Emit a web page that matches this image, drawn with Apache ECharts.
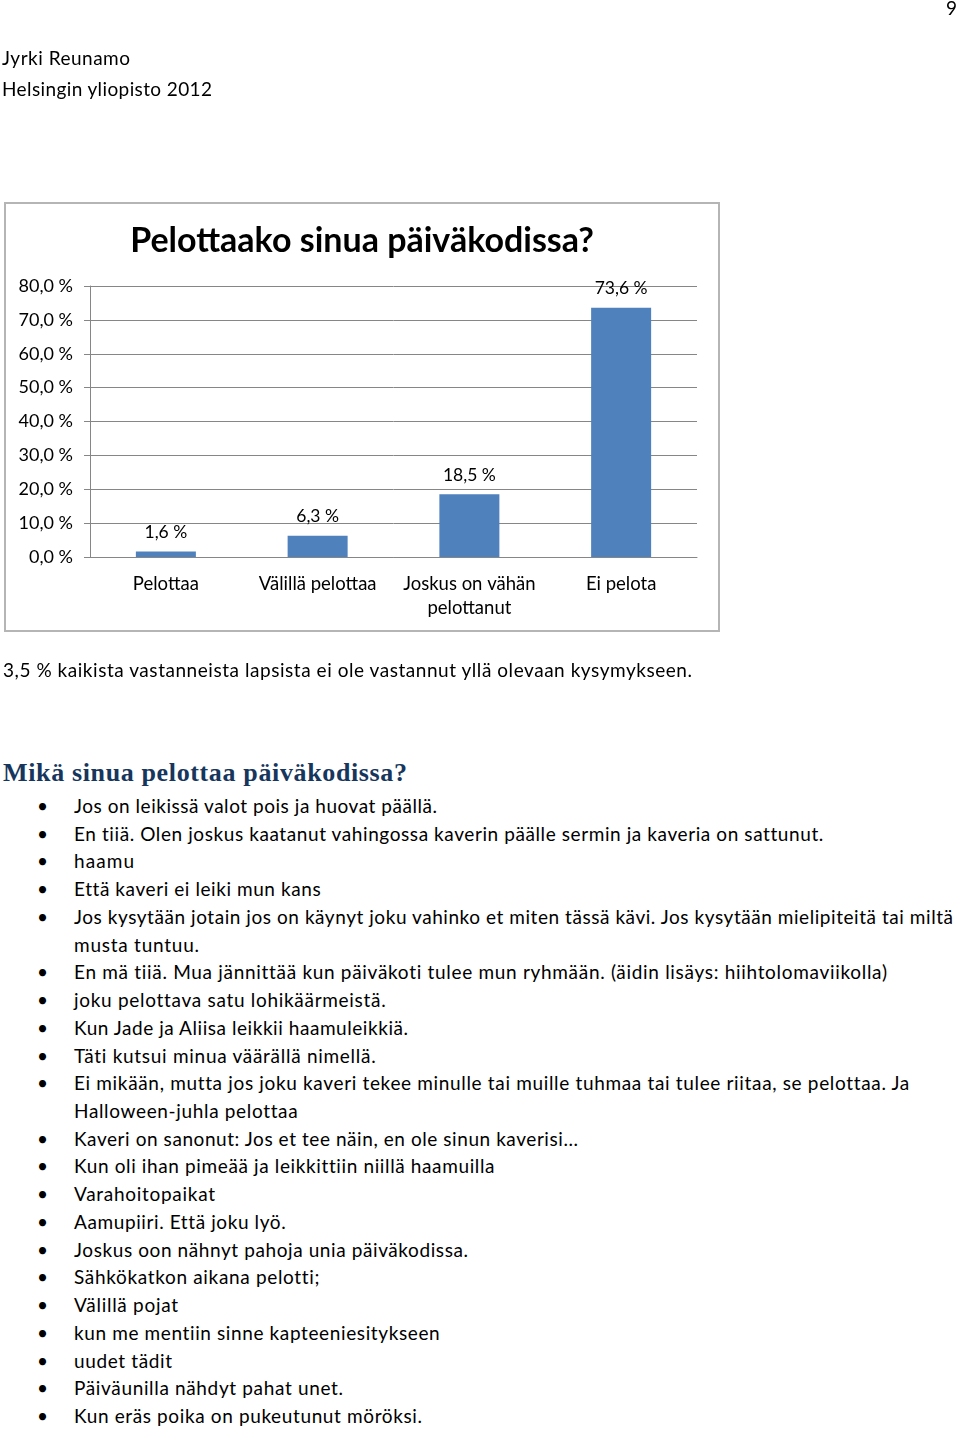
<!DOCTYPE html>
<html><head><meta charset="utf-8">
<script src="https://cdn.jsdelivr.net/npm/echarts@6/dist/echarts.min.js"></script>
<style>
html,body{margin:0;padding:0;background:#fff;}
body{width:960px;height:1429px;position:relative;overflow:hidden;font-family:Lato,'Noto Sans',sans-serif;color:#000;}
.t{position:absolute;white-space:nowrap;font-size:19px;line-height:28px;height:28px;}
.bul{position:absolute;left:37px;font-size:19px;line-height:28px;height:28px;}
.h2{position:absolute;left:3px;white-space:nowrap;font-family:'Liberation Serif','DejaVu Serif',serif;font-weight:bold;font-size:26px;line-height:34px;color:#17365d;}
#box{position:absolute;left:4px;top:202px;width:716px;height:430px;box-sizing:border-box;border:2px solid #b5b5b5;}
#chart{position:absolute;left:0;top:0;width:960px;height:700px;}
</style></head>
<body>
<div id="box"></div>
<div id="chart"></div>
<div id="doc"></div>
<script>
// ---- chart data ----
const categories = ['Pelottaa', 'Välillä pelottaa', 'Joskus on vähän\npelottanut', 'Ei pelota'];
const values = [1.6, 6.3, 18.5, 73.6];
const yMin = 0, yMax = 80, yStep = 10;
const chartTitle = 'Pelottaako sinua päiväkodissa?';

// ---- document text ----
const pageNumber = '9';
const headerLines = ['Jyrki Reunamo', 'Helsingin yliopisto 2012'];
const noteLine = '3,5 % kaikista vastanneista lapsista ei ole vastannut yllä olevaan kysymykseen.';
const heading = 'Mikä sinua pelottaa päiväkodissa?';
const answers = [
  ['Jos on leikissä valot pois ja huovat päällä.'],
  ['En tiiä. Olen joskus kaatanut vahingossa kaverin päälle sermin ja kaveria on sattunut.'],
  ['haamu'],
  ['Että kaveri ei leiki mun kans'],
  ['Jos kysytään jotain jos on käynyt joku vahinko et miten tässä kävi. Jos kysytään mielipiteitä tai miltä', 'musta tuntuu.'],
  ['En mä tiiä. Mua jännittää kun päiväkoti tulee mun ryhmään. (äidin lisäys: hiihtolomaviikolla)'],
  ['joku pelottava satu lohikäärmeistä.'],
  ['Kun Jade ja Aliisa leikkii haamuleikkiä.'],
  ['Täti kutsui minua väärällä nimellä.'],
  ['Ei mikään, mutta jos joku kaveri tekee minulle tai muille tuhmaa tai tulee riitaa, se pelottaa. Ja', 'Halloween-juhla pelottaa'],
  ['Kaveri on sanonut: Jos et tee näin, en ole sinun kaverisi...'],
  ['Kun oli ihan pimeää ja leikkittiin niillä haamuilla'],
  ['Varahoitopaikat'],
  ['Aamupiiri. Että joku lyö.'],
  ['Joskus oon nähnyt pahoja unia päiväkodissa.'],
  ['Sähkökatkon aikana pelotti;'],
  ['Välillä pojat'],
  ['kun me mentiin sinne kapteeniesitykseen'],
  ['uudet tädit'],
  ['Päiväunilla nähdyt pahat unet.'],
  ['Kun eräs poika on pukeutunut möröksi.']
];

// ---- layout (text fitting targets, right edges in px) ----
const answerRightEdges = [437, 823, 134, 320, 953, 199, 887, 385, 408, 376, 908, 297, 578, 494, 215, 285, 468, 319, 178, 440, 172, 343, 422];

const doc = document.getElementById('doc');
const fitList = [];
function addLine(text, left, centerY, right, cls) {
  const d = document.createElement('div');
  d.className = cls || 't';
  d.textContent = text;
  d.style.left = left + 'px';
  d.style.top = (centerY - 14) + 'px';
  doc.appendChild(d);
  if (right) fitList.push([d, right - left, text.length]);
  return d;
}
addLine(pageNumber, 946, 8, null);
addLine(headerLines[0], 2, 58, 130);
addLine(headerLines[1], 2, 89, 212);
addLine(noteLine, 3, 670, 692);
const h = document.createElement('div');
h.className = 'h2'; h.textContent = heading; h.style.top = (773 - 17) + 'px';
doc.appendChild(h); fitList.push([h, 404, heading.length]);

let k = 0;
answers.forEach(item => {
  item.forEach((ln, j) => {
    const y = 806 + k * 27.73;
    if (j === 0) {
      const b = document.createElement('div');
      b.className = 'bul'; b.textContent = '•'; b.style.top = (y - 14) + 'px';
      doc.appendChild(b);
    }
    addLine(ln, 74, y, answerRightEdges[k]);
    k++;
  });
});

function fit() {
  fitList.forEach(([el, target, n]) => {
    el.style.letterSpacing = '0px';
    const w = el.getBoundingClientRect().width;
    el.style.letterSpacing = ((target - w) / Math.max(1, n - 1)) + 'px';
  });
}

const fmt = v => v.toFixed(1).replace('.', ',') + ' %';
const gray = '#868686';
const chart = echarts.init(document.getElementById('chart'), null, {renderer: 'canvas'});
chart.setOption({
  animation: false,
  textStyle: {fontFamily: 'Lato'},
  graphic: [{
    type: 'text', x: 362, y: 241,
    style: {text: chartTitle, textAlign: 'center', textVerticalAlign: 'middle',
      font: 'bold 34px Lato', fill: '#000'}
  }],
  grid: {left: 90, right: 263, top: 286, bottom: 143},
  xAxis: {
    type: 'category', data: categories,
    axisLine: {lineStyle: {color: gray}},
    axisTick: {length: 6, lineStyle: {color: gray}},
    axisLabel: {interval: 0, color: '#000', fontSize: 18.5, margin: 15, lineHeight: 24, fontFamily: 'Lato'}
  },
  yAxis: {
    type: 'value', min: yMin, max: yMax, interval: yStep,
    axisLine: {show: true, lineStyle: {color: gray}},
    axisTick: {show: true, length: 6, lineStyle: {color: gray}},
    splitLine: {lineStyle: {color: gray}},
    axisLabel: {formatter: fmt, color: '#000', fontSize: 18, margin: 17, fontFamily: 'Lato'}
  },
  series: [{
    type: 'bar', data: values, barWidth: 60,
    itemStyle: {color: '#4f81bd'},
    label: {show: true, position: 'top', distance: 10, formatter: p => fmt(p.value),
      color: '#000', fontSize: 17.5, fontFamily: 'Lato'}
  }]
});

fit();
if (document.fonts && document.fonts.ready) document.fonts.ready.then(fit);
</script>
</body></html>
